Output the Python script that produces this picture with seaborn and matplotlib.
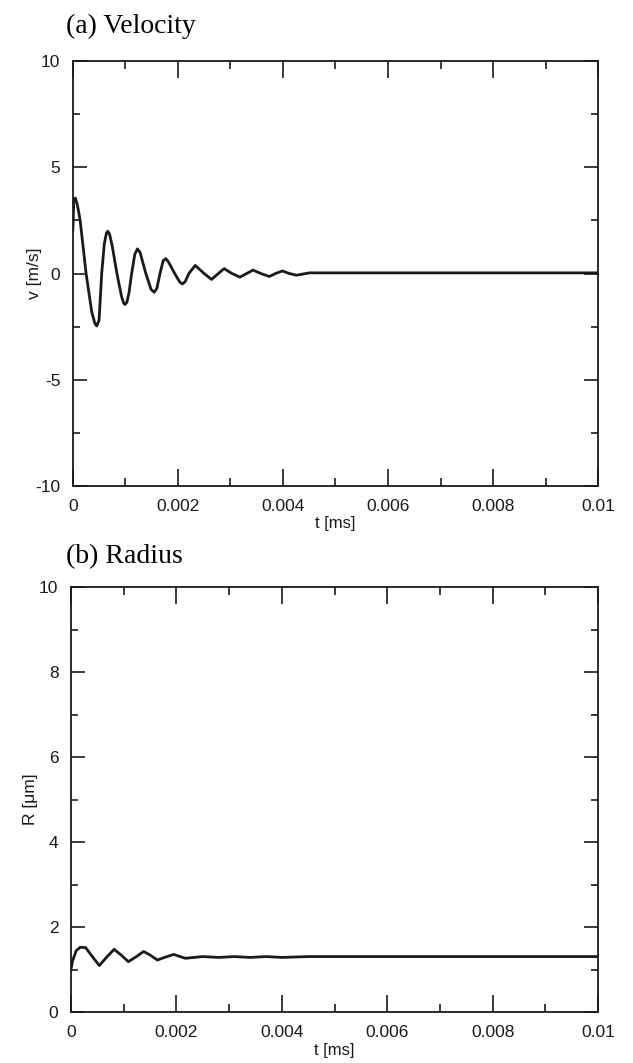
import numpy as np
import pandas as pd
import matplotlib
matplotlib.use("Agg")
import matplotlib.pyplot as plt
import seaborn as sns
from matplotlib.ticker import MultipleLocator, FuncFormatter

# (a) velocity: peaks, shoulders, troughs and zero crossings
t_vel = [0.0, 0.00002, 0.00005, 0.00009, 0.00014, 0.000253, 0.00036, 0.00042,
         0.000456, 0.0005, 0.00055, 0.0006, 0.00064, 0.000665, 0.0007, 0.00075,
         0.00084, 0.00093, 0.00097, 0.000994, 0.00103, 0.00107, 0.00112, 0.00118,
         0.00123, 0.00128, 0.00139, 0.00149, 0.00155, 0.0016, 0.00166, 0.00172,
         0.00177, 0.00182, 0.00194, 0.00204, 0.00209, 0.00214, 0.00221, 0.00233,
         0.0025, 0.00264, 0.00277, 0.00288, 0.00303, 0.00318, 0.00331, 0.00343,
         0.00358, 0.00374, 0.00386, 0.00399, 0.00412, 0.00426, 0.0045, 0.006,
         0.008, 0.01]
v_vel = [2.0, 3.5, 3.55, 3.2, 2.5, 0.0, -1.8, -2.35,
         -2.47, -2.2, 0.0, 1.4, 1.9, 1.99, 1.85, 1.3,
         0.0, -1.1, -1.4, -1.46, -1.35, -0.9, 0.0, 0.9,
         1.16, 1.0, 0.0, -0.75, -0.88, -0.7, 0.0, 0.6,
         0.70, 0.55, 0.0, -0.42, -0.49, -0.38, 0.0, 0.38,
         0.0, -0.28, 0.0, 0.23, 0.0, -0.17, 0.0, 0.16,
         0.0, -0.14, 0.0, 0.12, 0.0, -0.08, 0.03, 0.03,
         0.03, 0.03]

# (b) radius
t_rad = [0.0, 0.00003, 0.0001, 0.00018, 0.00028, 0.0004, 0.00054, 0.00068,
         0.00082, 0.00095, 0.00109, 0.00123, 0.00138, 0.00151, 0.00164, 0.0018,
         0.00195, 0.00217, 0.0025, 0.0028, 0.0031, 0.0034, 0.0037, 0.004,
         0.0045, 0.006, 0.008, 0.01]
r_rad = [1.0, 1.2, 1.45, 1.53, 1.52, 1.32, 1.10, 1.3,
         1.48, 1.35, 1.19, 1.3, 1.43, 1.34, 1.23, 1.3,
         1.36, 1.27, 1.31, 1.29, 1.31, 1.29, 1.31, 1.29,
         1.31, 1.31, 1.31, 1.31]

df_v = pd.DataFrame({"t": t_vel, "v": v_vel})
df_r = pd.DataFrame({"t": t_rad, "R": r_rad})

sns.set_style("ticks")
plt.rcParams["font.family"] = ["Liberation Sans", "DejaVu Sans"]

fig = plt.figure(figsize=(6.33, 10.63), dpi=100)
ax1 = fig.add_axes([0.115, 0.5428, 0.83, 0.3998])
ax2 = fig.add_axes([0.112, 0.0477, 0.833, 0.4001])

ink = "#1a1a1a"
fmt = FuncFormatter(lambda v, pos: ("%g" % round(v, 6)).replace("\u2212", "-"))
for ax, df, y, ylim, ymaj, ymin, ylab, lpad in [
    (ax1, df_v, "v", (-10, 10), 5, 2.5, "v [m/s]", -5),
    (ax2, df_r, "R", (0, 10), 2, 1, "R [μm]", 1),
]:
    sns.lineplot(data=df, x="t", y=y, ax=ax, color=ink, linewidth=2.0, sort=False)
    ax.set_xlim(0, 0.01)
    ax.set_ylim(*ylim)
    ax.xaxis.set_major_locator(MultipleLocator(0.002))
    ax.xaxis.set_minor_locator(MultipleLocator(0.001))
    ax.yaxis.set_major_locator(MultipleLocator(ymaj))
    ax.yaxis.set_minor_locator(MultipleLocator(ymin))
    ax.xaxis.set_major_formatter(fmt)
    ax.yaxis.set_major_formatter(fmt)
    ax.tick_params(which="both", direction="in", top=True, right=True,
                   color=ink, width=1.2, labelsize=12.5, labelcolor=ink)
    ax.tick_params(axis="x", which="major", length=12, pad=9)
    ax.tick_params(axis="x", which="minor", length=6)
    ax.tick_params(axis="y", which="major", length=10, pad=9)
    ax.tick_params(axis="y", which="minor", length=5)
    for s in ax.spines.values():
        s.set_visible(True)
        s.set_color(ink)
        s.set_linewidth(1.3)
    ax.set_xlabel("t [ms]", fontsize=12, color=ink, labelpad=2)
    ax.set_ylabel(ylab, fontsize=12.5, color=ink, labelpad=lpad)

fig.text(0.105, 0.969, "(a) Velocity", fontsize=20,
         family=["Liberation Serif", "DejaVu Serif"], color="black")
fig.text(0.105, 0.4704, "(b) Radius", fontsize=20,
         family=["Liberation Serif", "DejaVu Serif"], color="black")

fig.savefig("out.png", dpi=100)
